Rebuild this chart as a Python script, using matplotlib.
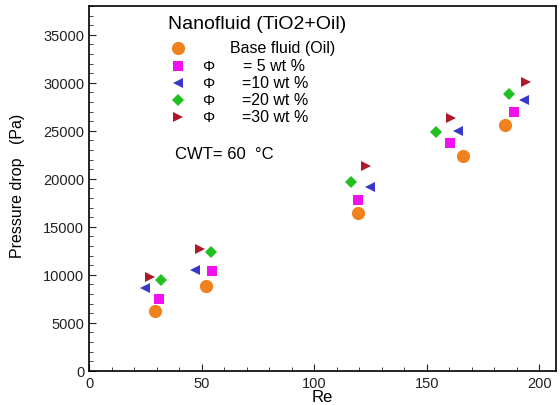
import matplotlib.pyplot as plt
from matplotlib.ticker import MultipleLocator

plt.rcParams['font.family'] = ['Liberation Sans', 'DejaVu Sans']

# data
re_base = [29.3, 52.0, 119.6, 166.2, 184.9]
dp_base = [6200, 8850, 16450, 22400, 25550]
re_5 = [31.1, 54.7, 119.6, 160.4, 188.9]
dp_5 = [7500, 10400, 17800, 23750, 26950]
re_10 = [24.9, 47.1, 124.9, 164.0, 193.3]
dp_10 = [8650, 10500, 19100, 25000, 28250]
re_20 = [32.0, 54.2, 116.4, 154.2, 186.7]
dp_20 = [9500, 12400, 19650, 24900, 28850]
re_30 = [27.1, 49.3, 123.0, 160.9, 194.2]
dp_30 = [9800, 12700, 21300, 26350, 30100]

series = [
    (re_base, dp_base, 'o', '#f0821e', 9.5, 'Base fluid (Oil)'),
    (re_5, dp_5, 's', '#f010f0', 7.0, '= 5 wt %'),
    (re_10, dp_10, '<', '#3838c8', 7.5, '=10 wt %'),
    (re_20, dp_20, 'D', '#20c020', 6.5, '=20 wt %'),
    (re_30, dp_30, '>', '#b01828', 7.5, '=30 wt %'),
]

fig = plt.figure(figsize=(5.6, 4.06), dpi=100)
ax = fig.add_axes([0.159, 0.084, 0.834, 0.899])

for x, y, m, c, s, lab in series:
    ax.plot(x, y, linestyle='none', marker=m, color=c, markersize=s,
            markeredgewidth=0)

ax.set_xlim(0, 207.5)
ax.set_ylim(0, 38000)
ax.xaxis.set_major_locator(MultipleLocator(50))
ax.xaxis.set_minor_locator(MultipleLocator(10))
ax.yaxis.set_major_locator(MultipleLocator(5000))
ax.yaxis.set_minor_locator(MultipleLocator(1000))
ax.tick_params(which='both', direction='in', top=False, right=False,
               labelsize=10.5, colors='#222222')
ax.tick_params(which='major', length=5)
ax.tick_params(which='minor', length=3)
for sp in ax.spines.values():
    sp.set_linewidth(1.2)

ax.set_xlabel('Re', fontsize=12)
ax.xaxis.set_label_coords(0.5, -0.05)
ax.set_ylabel('Pressure drop   (Pa)', fontsize=11.5)
ax.yaxis.set_label_coords(-0.137, 0.51)

# legend block drawn by hand
tr = ax.transAxes
def ax_xy(px, py):
    return ((px - 89) / 467.0, (372 - py) / 365.0)

tx, ty = ax_xy(257, 25)
ax.text(tx, ty, 'Nanofluid (TiO2+Oil)', transform=tr, fontsize=14,
        ha='center', va='center')
rows = [49, 67, 84, 101, 118]
for (x, y, m, c, s, lab), py in zip(series, rows):
    mx, my = ax_xy(178, py)
    ax.plot([mx], [my], transform=tr, linestyle='none', marker=m, color=c,
            markersize=s, markeredgewidth=0, clip_on=False)
    if lab.startswith('Base'):
        lx, ly = ax_xy(230, py)
        ax.text(lx, ly, lab, transform=tr, fontsize=11.5, va='center')
    else:
        px_, py_ = ax_xy(202, py)
        ax.text(px_, py_, 'Φ', transform=tr, fontsize=11, va='center')
        lx, ly = ax_xy(243 if lab.startswith('= ') else 242, py)
        ax.text(lx, ly, lab, transform=tr, fontsize=11.5, va='center')

cx, cy = ax_xy(175, 155)
ax.text(cx, cy, 'CWT= 60  °C', transform=tr, fontsize=12, va='center')

fig.savefig('out.png', dpi=100)
